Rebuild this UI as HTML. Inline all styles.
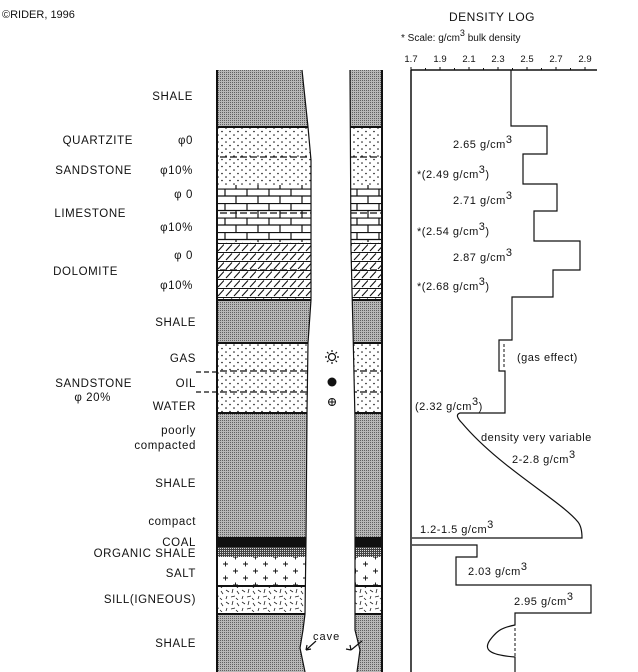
<!DOCTYPE html>
<html><head><meta charset="utf-8"><style>
html,body{margin:0;padding:0;background:#fff;}
svg{display:block;}
text{font-family:"Liberation Sans",sans-serif;fill:#111;}
</style></head><body>
<svg width="638" height="672" viewBox="0 0 638 672" xmlns="http://www.w3.org/2000/svg">
<defs>
<pattern id="sh" width="2" height="2" patternUnits="userSpaceOnUse"><rect width="2" height="2" fill="#b8b8b8"/><rect width="1" height="1" fill="#606060"/></pattern>
<pattern id="osh" width="2" height="2" patternUnits="userSpaceOnUse"><rect width="2" height="2" fill="#444"/><rect width="1" height="1" fill="#ddd"/></pattern>
<pattern id="sd" width="8" height="7" patternUnits="userSpaceOnUse"><circle cx="2" cy="2" r="0.8" fill="#111"/><circle cx="6" cy="5.5" r="0.8" fill="#111"/></pattern>
<pattern id="ls" width="22" height="14.5" patternUnits="userSpaceOnUse"><rect width="22" height="14.5" fill="#fff"/><path d="M0 0.5H22M0 7.5H22M5 0.5V7.5M16 7.5V14.5" stroke="#111" stroke-width="1.2" fill="none"/></pattern>
<pattern id="dl" width="16" height="9" patternUnits="userSpaceOnUse"><rect width="16" height="9" fill="#fff"/><path d="M0 0.5H16M2 8L8 1.5M10 8L16 1.5" stroke="#111" stroke-width="1.1" fill="none"/></pattern>
<pattern id="sl" width="20" height="14" patternUnits="userSpaceOnUse"><path d="M3 4H8M5.5 1.5V6.5M13 11H18M15.5 8.5V13.5" stroke="#111" stroke-width="0.9"/></pattern>
<pattern id="sill" width="16" height="12" patternUnits="userSpaceOnUse"><path d="M2 2L5 4M9 1L8 5M13 3L15 6M3 8L2 11M7 9L11 8M12 10L14 12" stroke="#222" stroke-width="0.8"/></pattern>
<clipPath id="lc"><path d="M217 70 L302 70 L308 127 L311 160 L311 300 L308 343 L307 413 L306 540 L305 614 L303 630 L300 648 L305 672 L217 672 Z"/></clipPath>
<clipPath id="rc"><path d="M350 70 L382 70 L382 672 L357 672 L360 650 L355 630 L355 420 L353 330 L351 250 Z"/></clipPath>
<g id="layers">
<rect x="200" y="70" width="200" height="57" fill="url(#sh)"/>
<rect x="200" y="127" width="200" height="58" fill="#fff"/><rect x="200" y="127" width="200" height="58" fill="url(#sd)"/>
<rect x="200" y="185" width="200" height="57" fill="url(#ls)"/>
<rect x="200" y="242" width="200" height="58" fill="url(#dl)"/>
<rect x="200" y="300" width="200" height="43" fill="url(#sh)"/>
<rect x="200" y="343" width="200" height="70" fill="#fff"/><rect x="200" y="343" width="200" height="70" fill="url(#sd)"/>
<rect x="200" y="413" width="200" height="124" fill="url(#sh)"/>
<rect x="200" y="537" width="200" height="10" fill="#111"/>
<rect x="200" y="547" width="200" height="10" fill="url(#osh)"/>
<rect x="200" y="557" width="200" height="29" fill="#fff"/><rect x="200" y="557" width="200" height="29" fill="url(#sl)"/>
<rect x="200" y="586" width="200" height="28" fill="#fff"/><rect x="200" y="586" width="200" height="28" fill="url(#sill)"/>
<rect x="200" y="614" width="200" height="58" fill="url(#sh)"/>
<path d="M200 127H400M200 300H400M200 343H400M200 413H400M200 586H400M200 614H400" stroke="#111" stroke-width="2"/>
<path d="M200 157H400M200 213H400M200 270H400M200 371H400M200 392H400" stroke="#111" stroke-width="1.3" stroke-dasharray="7 3"/>
</g>
</defs>
<g clip-path="url(#lc)"><use href="#layers"/></g>
<g clip-path="url(#rc)"><use href="#layers"/></g>
<path d="M217 70V672" stroke="#111" stroke-width="2"/>
<path d="M302 70 L308 127 L311 160 L311 300 L308 343 L307 413 L306 540 L305 614 L303 630 L300 648 L305 672" stroke="#111" stroke-width="1.2" fill="none"/>
<path d="M382 70V672" stroke="#111" stroke-width="2"/>
<path d="M350 70 L351 250 L353 330 L355 420 L355 630 L360 650 L357 672" stroke="#111" stroke-width="1.2" fill="none"/>
<path d="M196 372H217M196 392H217" stroke="#111" stroke-width="1.2" stroke-dasharray="5 3"/>
<g stroke="#111" stroke-width="1.2" fill="none"><circle cx="332" cy="357" r="3.5"/><path d="M332 350V352M332 362V364M325 357H327M337 357H339M327 352L328.5 353.5M335.5 360.5L337 362M337 352L335.5 353.5M328.5 360.5L327 362"/></g>
<circle cx="332" cy="382" r="4.5" fill="#111"/>
<g stroke="#111" stroke-width="1" fill="none"><circle cx="332" cy="402" r="3.5"/><path d="M328.5 402H335.5M332 398.5V405.5"/></g>
<text x="313" y="640" font-size="11" letter-spacing="1">cave</text>
<path d="M316 641 L306 650 M362 641 L351 650" stroke="#111" stroke-width="1.2"/>
<path d="M306 650l5-1M306 650l1-5M351 650l-5-1M351 650l-1-5" stroke="#111" stroke-width="1.2"/>
<text x="2" y="18" font-size="11">©RIDER, 1996</text>
<g font-size="11.5" letter-spacing="0.6" text-anchor="end">
<text x="193" y="100">SHALE</text>
<text x="133" y="144">QUARTZITE</text><text x="193" y="144">φ0</text>
<text x="132" y="174">SANDSTONE</text><text x="193" y="174">φ10%</text>
<text x="193" y="198">φ 0</text>
<text x="126" y="217">LIMESTONE</text><text x="193" y="231">φ10%</text>
<text x="193" y="259">φ 0</text>
<text x="118" y="275">DOLOMITE</text><text x="193" y="289">φ10%</text>
<text x="196" y="326">SHALE</text>
<text x="196" y="362">GAS</text>
<text x="132" y="387">SANDSTONE</text><text x="196" y="387">OIL</text>
<text x="111" y="401">φ 20%</text>
<text x="196" y="410">WATER</text>
<text x="196" y="434">poorly</text>
<text x="196" y="449">compacted</text>
<text x="196" y="487">SHALE</text>
<text x="196" y="525">compact</text>
<text x="196" y="546">COAL</text>
<text x="196" y="557">ORGANIC SHALE</text>
<text x="196" y="577">SALT</text>
<text x="196" y="603">SILL(IGNEOUS)</text>
<text x="196" y="647">SHALE</text>
</g>
<text x="492" y="21" font-size="12" text-anchor="middle" letter-spacing="0.5">DENSITY LOG</text>
<text x="401" y="41" font-size="10">* Scale: g/cm<tspan dy="-5" font-size="9">3</tspan><tspan dy="5"> bulk density</tspan></text>
<g font-size="9.5" text-anchor="middle">
<text x="411" y="62">1.7</text><text x="440" y="62">1.9</text><text x="469" y="62">2.1</text><text x="498" y="62">2.3</text><text x="527" y="62">2.5</text><text x="556" y="62">2.7</text><text x="585" y="62">2.9</text>
</g>
<path d="M411 70H597" stroke="#111" stroke-width="1.5"/>
<path d="M411 67V70M425.5 68V70M440 67V70M454.5 68V70M469 67V70M483.5 68V70M498 67V70M512.5 68V70M527 67V70M541.5 68V70M556 67V70M570.5 68V70M585 67V70" stroke="#111" stroke-width="1"/>
<path d="M411 70V672" stroke="#111" stroke-width="1.5"/>
<path d="M511 70V126H547V154H523V184H557V211H534V241H580V270H553V297H512V340H499V371H505V413H460 Q454 415 462 423 C500 468 560 500 578 522 Q582 527 582 538 H412 M412 545H477V557H456V585H591V613H515V625 C500 628 496 632 490 640 C483 650 490 655 515 657 V672" stroke="#111" stroke-width="1.2" fill="none"/>
<path d="M504 344V368M515 628V656" stroke="#111" stroke-width="1" stroke-dasharray="3 2"/>
<g font-size="11" letter-spacing="0.5">
<text x="453" y="148">2.65 g/cm<tspan dy="-5">3</tspan></text>
<text x="417" y="178">*(2.49 g/cm<tspan dy="-5">3</tspan><tspan dy="5">)</tspan></text>
<text x="453" y="204">2.71 g/cm<tspan dy="-5">3</tspan></text>
<text x="417" y="235">*(2.54 g/cm<tspan dy="-5">3</tspan><tspan dy="5">)</tspan></text>
<text x="453" y="261">2.87 g/cm<tspan dy="-5">3</tspan></text>
<text x="417" y="290">*(2.68 g/cm<tspan dy="-5">3</tspan><tspan dy="5">)</tspan></text>
<text x="517" y="361">(gas effect)</text>
<text x="415" y="410">(2.32 g/cm<tspan dy="-5">3</tspan><tspan dy="5">)</tspan></text>
<text x="481" y="441">density very variable</text>
<text x="512" y="463">2-2.8 g/cm<tspan dy="-5">3</tspan></text>
<text x="420" y="533">1.2-1.5 g/cm<tspan dy="-5">3</tspan></text>
<text x="468" y="575">2.03 g/cm<tspan dy="-5">3</tspan></text>
<text x="514" y="605">2.95 g/cm<tspan dy="-5">3</tspan></text>
</g>
</svg>
</body></html>
